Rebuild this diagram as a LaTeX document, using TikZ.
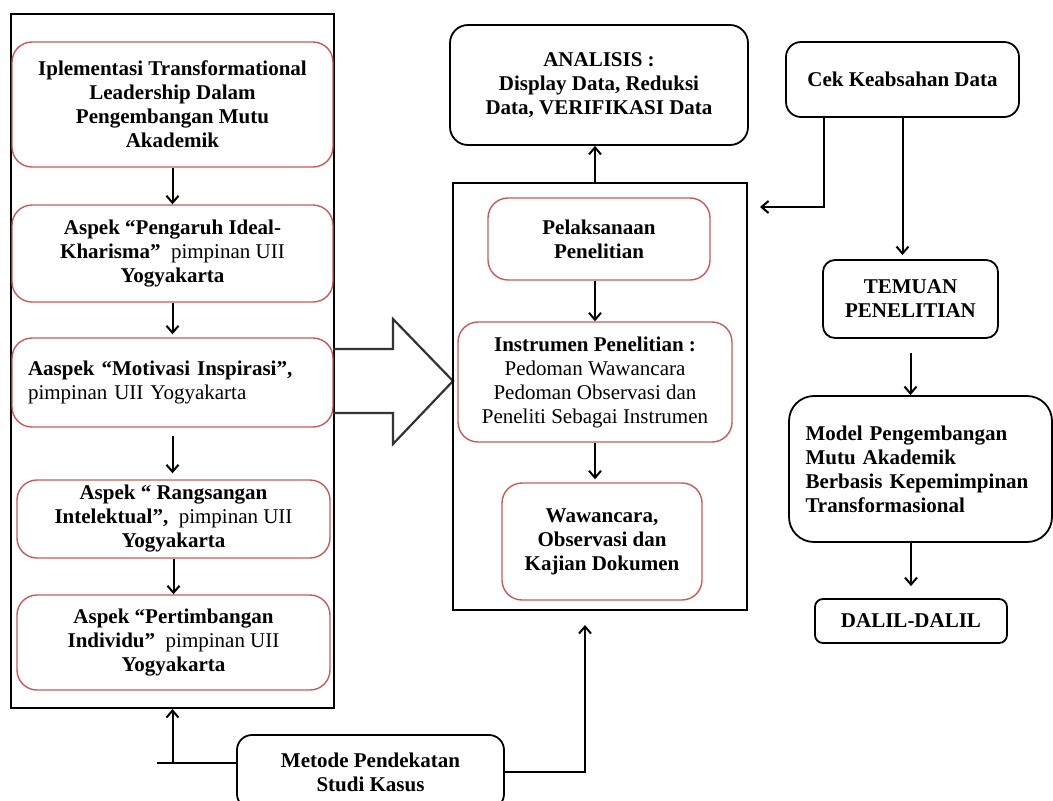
\documentclass[tikz,border=0pt]{standalone}
\usepackage{fontspec}
\setmainfont{Liberation Serif}
\usetikzlibrary{positioning, arrows.meta}
\definecolor{kotakmerah}{RGB}{200,90,88}

\begin{document}
\begin{tikzpicture}[x=1pt,y=-1pt,
    every node/.style={font=\bfseries\fontsize{21}{24}\selectfont, align=center, inner sep=0pt},
    merah/.style={draw=kotakmerah, line width=1.4pt, rounded corners=20pt},
    hitam/.style={draw=black, line width=1.8pt, rounded corners=18pt},
    bingkai/.style={draw=black, line width=2pt},
    panah/.style={line width=2pt, -{Straight Barb[length=7pt,width=12pt]}}]
    \useasboundingbox (0,0) rectangle (1053,801);

    % kolom kiri
    \node[bingkai, minimum width=323pt, minimum height=694pt] (kiri) at (172.5,361) {};
    \node[merah, minimum width=321pt, minimum height=125pt] (iplementasi) at (172.5,104.5)
        {Iplementasi Transformational\\Leadership Dalam\\Pengembangan Mutu\\Akademik};
    \node[merah, minimum width=321pt, minimum height=97pt] (pengaruh) at (172.5,253.5)
        {Aspek “Pengaruh Ideal-\\Kharisma”\ \ {\mdseries pimpinan UII}\\Yogyakarta};
    \node[merah, text width=289pt, inner xsep=16pt, align=left, minimum height=89pt] (motivasi) at (172.5,382.5)
        {Aaspek “Motivasi Inspirasi”,\\{\mdseries pimpinan UII Yogyakarta}};
    \node[merah, minimum width=313pt, minimum height=78pt] (rangsangan) at (173.5,519)
        {Aspek “ Rangsangan\\Intelektual”,\ \ {\mdseries pimpinan UII}\\Yogyakarta};
    \node[merah, minimum width=313pt, minimum height=95pt] (pertimbangan) at (173.5,642.5)
        {Aspek “Pertimbangan\\Individu”\ \ {\mdseries pimpinan UII}\\Yogyakarta};

    \draw[panah] (iplementasi) -- (pengaruh);
    \draw[panah, shorten >=3pt] (pengaruh) -- (motivasi);
    \draw[panah, shorten <=8pt, shorten >=6pt] (motivasi.south) -- (motivasi.south |- rangsangan.north);
    \draw[panah] (rangsangan) -- (pertimbangan);

    % panah besar
    \draw[line width=2.2pt, draw=black!80] (333,349) -- (393,349) -- (393,319) -- (453,381)
        -- (393,444) -- (393,413) -- (333,413);

    % kolom tengah
    \node[hitam, minimum width=298pt, minimum height=120pt] (analisis) at (599,85)
        {ANALISIS :\\Display Data, Reduksi\\Data, VERIFIKASI Data};
    \node[bingkai, minimum width=294pt, minimum height=427pt] (tengah) at (600,396.5) {};
    \node[merah, minimum width=222pt, minimum height=82pt] (pelaksanaan) at (599,239)
        {Pelaksanaan\\Penelitian};
    \node[merah, minimum width=274pt, minimum height=120pt] (instrumen) at (595,382)
        {Instrumen Penelitian :\\{\mdseries Pedoman Wawancara}\\{\mdseries Pedoman Observasi dan}\\{\mdseries Peneliti Sebagai Instrumen}};
    \node[merah, minimum width=200pt, minimum height=117pt] (wawancara) at (602,541.5)
        {Wawancara,\\Observasi dan\\Kajian Dokumen};

    \draw[panah] (tengah.north -| instrumen) -- (analisis.south -| instrumen);
    \draw[panah] (pelaksanaan.south -| instrumen) -- (instrumen);
    \draw[panah, shorten >=3pt] (instrumen) -- (instrumen |- wawancara.north);

    % kolom kanan
    \node[hitam, rounded corners=15pt, minimum width=233pt, minimum height=75pt] (cek) at (902.5,79.5)
        {Cek Keabsahan Data};
    \node[hitam, rounded corners=12pt, minimum width=175pt, minimum height=78pt] (temuan) at (910.5,299)
        {TEMUAN\\PENELITIAN};
    \node[hitam, rounded corners=25pt, text width=230pt, inner xsep=16.5pt, align=left, minimum height=146pt] (model) at (920.5,469)
        {Model Pengembangan\\Mutu Akademik\\Berbasis Kepemimpinan\\Transformasional};
    \node[hitam, rounded corners=8pt, minimum width=192pt, minimum height=44pt] (dalil) at (911,621)
        {DALIL-DALIL};

    \coordinate (cekkiri) at (760,207);
    \draw[panah] ([xshift=-78.5pt]cek.south) |- (cekkiri);
    \draw[panah, shorten >=4pt] (cek.south) -- (cek.south |- temuan.north);
    \draw[panah, shorten <=14pt] (temuan.south) -- (temuan.south |- model.north);
    \draw[panah, shorten >=12pt] (model.south -| dalil) -- (dalil);

    % metode
    \node[hitam, rounded corners=15pt, minimum width=267pt, minimum height=74pt] (metode) at (370.5,772)
        {Metode Pendekatan\\Studi Kasus};
    \coordinate (metkiri) at (157,763);
    \coordinate (metkanan) at (585,625);
    \draw[line width=2pt] (metode.west |- metkiri) -- (metkiri);
    \draw[panah] (kiri.south |- metkiri) -- (kiri.south);
    \draw[panah] (metode.east) -| (metkanan);
\end{tikzpicture}
\end{document}
